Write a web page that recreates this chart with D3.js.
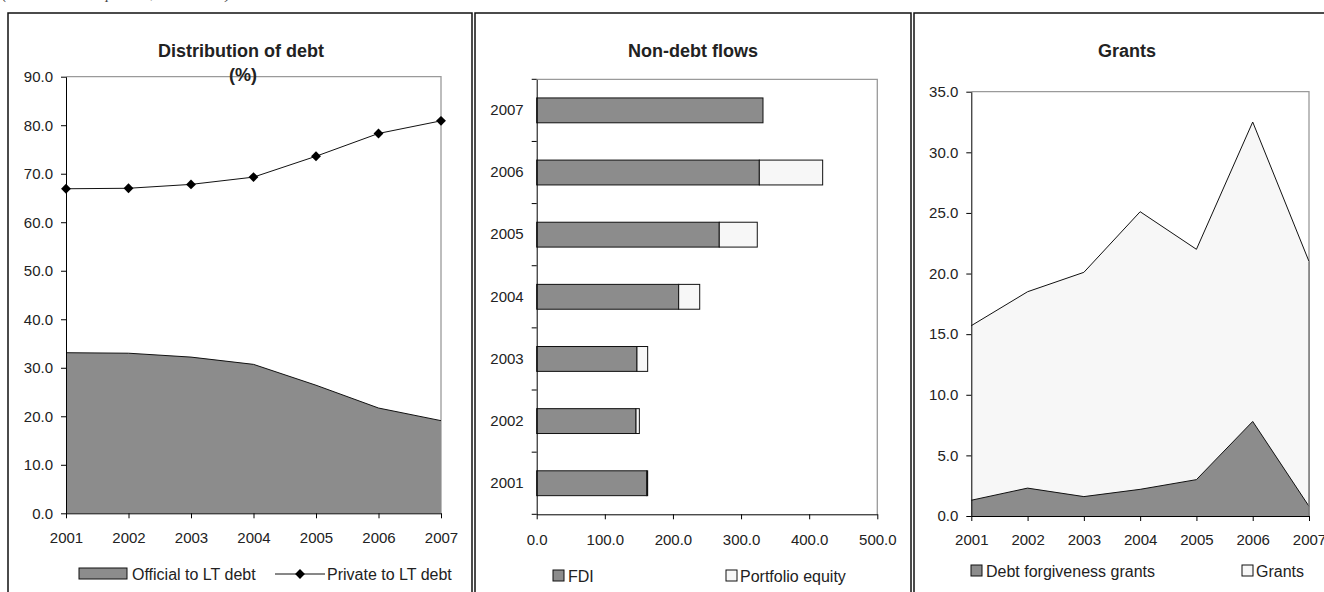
<!DOCTYPE html>
<html>
<head>
<meta charset="utf-8">
<script src="https://cdn.jsdelivr.net/npm/d3@7/dist/d3.min.js"></script>
<style>
  body { margin: 0; background: #fff; }
  svg { display: block; font-family: "Liberation Sans", Arial, sans-serif; }
</style>
</head>
<body>
<svg id="chart" width="1324" height="592"></svg>
<script>
// Years shared by all three panels
const years = ["2001", "2002", "2003", "2004", "2005", "2006", "2007"];

// Distribution of debt (%)
const officialShare = [33.1, 33.0, 32.2, 30.7, 26.4, 21.7, 19.1];
const privateShare  = [66.9, 67.0, 67.8, 69.3, 73.6, 78.3, 80.9];
const debtTicks = [0, 10, 20, 30, 40, 50, 60, 70, 80, 90];

// Non-debt flows
const fdi             = [161.5, 145.8, 147.2, 208.4, 268.0, 326.8, 332.2];
const portfolioEquity = [1.4, 4.9, 15.7, 30.9, 55.8, 93.0, 0.0];
const flowTicks = [0, 100, 200, 300, 400, 500];

// Grants
const debtForgivenessGrants = [1.3, 2.3, 1.6, 2.2, 3.0, 7.8, 0.8];
const grantsTotal           = [15.7, 18.5, 20.1, 25.1, 22.0, 32.5, 21.0];
const grantTicks = [0, 5, 10, 15, 20, 25, 30, 35];

const DARK = "#8c8c8c", LIGHT = "#f7f7f7", FRAME = "#9a9a9a", TEXT = "#222";
const FONT = "'Liberation Sans', Arial, sans-serif";
const fmt = d3.format(".1f");
const svg = d3.select("#chart");

// Axis text styling applied after d3 draws its defaults
function styleAxis(g) {
  g.attr("font-family", FONT).attr("font-size", 15);
  g.selectAll("path, line").attr("stroke", "#000");
  g.selectAll("text").attr("fill", TEXT).attr("font-size", 15).attr("font-family", FONT);
}

// Caption line running off the top edge
svg.append("text").attr("x", 2).attr("y", -1)
  .attr("font-family", "'Liberation Serif', 'Times New Roman', serif")
  .attr("font-style", "italic").attr("font-size", 15).attr("fill", "#444")
  .text("(US$ billion and percent, 2001–2007)");

// Panel boxes
[[8, 472], [475, 911], [914, 1340]].forEach(([x0, x1]) => {
  svg.append("rect").attr("x", x0).attr("y", 13).attr("width", x1 - x0).attr("height", 600)
    .attr("fill", "none").attr("stroke", "#111").attr("stroke-width", 1.5);
});

function title(x, y, t) {
  svg.append("text").attr("x", x).attr("y", y).attr("text-anchor", "middle")
    .attr("font-size", 18).attr("font-weight", "bold").attr("fill", TEXT).text(t);
}
function frame(x0, x1, y0, y1) {
  svg.append("path").attr("d", `M${x0},${y0}H${x1}V${y1}`)
    .attr("fill", "none").attr("stroke", FRAME).attr("stroke-width", 1.3);
}
function legendBox(x, y, w, h, fill, label, tx) {
  svg.append("rect").attr("x", x).attr("y", y).attr("width", w).attr("height", h)
    .attr("fill", fill).attr("stroke", "#111").attr("stroke-width", 1);
  svg.append("text").attr("x", tx).attr("y", y + h + 0.5).attr("font-size", 16)
    .attr("fill", TEXT).text(label);
}

// ---------- Panel 1: Distribution of debt ----------
{
  const x = d3.scalePoint().domain(years).range([66, 441]);
  const y = d3.scaleLinear().domain([0, 90]).range([513.3, 76.7]);
  frame(66, 441, 76.7, 513.3);

  const area = d3.area().x((d, i) => x(years[i])).y0(y(0)).y1(d => y(d));
  svg.append("path").datum(officialShare).attr("d", area).attr("fill", DARK);
  svg.append("path").datum(officialShare)
    .attr("d", d3.line().x((d, i) => x(years[i])).y(d => y(d)))
    .attr("fill", "none").attr("stroke", "#111").attr("stroke-width", 1);

  svg.append("path").datum(privateShare)
    .attr("d", d3.line().x((d, i) => x(years[i])).y(d => y(d)))
    .attr("fill", "none").attr("stroke", "#111").attr("stroke-width", 1);
  const diamond = d3.symbol().type(d3.symbolDiamond2).size(62);
  svg.selectAll(".pm").data(privateShare).join("path")
    .attr("transform", (d, i) => `translate(${x(years[i])},${y(d)})`)
    .attr("d", diamond).attr("fill", "#000");

  svg.append("g").attr("transform", "translate(66,0)")
    .call(d3.axisLeft(y).tickValues(debtTicks).tickFormat(fmt).tickSize(5).tickSizeOuter(0).tickPadding(8))
    .call(styleAxis);
  svg.append("g").attr("transform", "translate(0,513.3)")
    .call(d3.axisBottom(x).tickSize(5).tickSizeOuter(0).tickPadding(14))
    .call(styleAxis);

  title(241, 56.5, "Distribution of debt");
  title(243, 80.5, "(%)");

  legendBox(79, 568, 48, 11, DARK, "Official to LT debt", 132);
  svg.append("line").attr("x1", 275).attr("x2", 325).attr("y1", 574).attr("y2", 574)
    .attr("stroke", "#111").attr("stroke-width", 1);
  svg.append("path").attr("transform", "translate(300,574)").attr("d", diamond).attr("fill", "#000");
  svg.append("text").attr("x", 327).attr("y", 580).attr("font-size", 16).attr("fill", TEXT)
    .text("Private to LT debt");
}

// ---------- Panel 2: Non-debt flows ----------
{
  const order = years.slice().reverse();
  const x = d3.scaleLinear().domain([0, 500]).range([536.7, 877.3]);
  const y = d3.scaleBand().domain(order).range([79.3, 514.3]).paddingInner(0.6).paddingOuter(0.3);
  frame(536.7, 877.3, 79.3, 514.3);

  years.forEach((yr, i) => {
    svg.append("rect").attr("x", x(0)).attr("y", y(yr)).attr("width", x(fdi[i]) - x(0))
      .attr("height", y.bandwidth()).attr("fill", DARK).attr("stroke", "#111").attr("stroke-width", 1);
    if (portfolioEquity[i] > 0) {
      svg.append("rect").attr("x", x(fdi[i])).attr("y", y(yr))
        .attr("width", x(fdi[i] + portfolioEquity[i]) - x(fdi[i]))
        .attr("height", y.bandwidth()).attr("fill", LIGHT).attr("stroke", "#111").attr("stroke-width", 1);
    }
  });

  const yAxis = svg.append("g").attr("transform", "translate(536.7,0)")
    .call(d3.axisLeft(y).tickSize(0).tickSizeOuter(0).tickPadding(13))
    .call(styleAxis);
  // category boundary ticks
  const step = y.step();
  d3.range(order.length + 1).forEach(k => {
    yAxis.append("line").attr("x1", -5).attr("x2", 0)
      .attr("y1", 79.3 + k * step).attr("y2", 79.3 + k * step).attr("stroke", "#000");
  });
  svg.append("g").attr("transform", "translate(0,514.3)")
    .call(d3.axisBottom(x).tickValues(flowTicks).tickFormat(fmt).tickSize(5).tickSizeOuter(0).tickPadding(15))
    .call(styleAxis);

  title(693, 56.5, "Non-debt flows");
  legendBox(553, 570, 11, 11, DARK, "FDI", 568);
  legendBox(726, 570, 11, 11, LIGHT, "Portfolio equity", 740);
}

// ---------- Panel 3: Grants ----------
{
  const x = d3.scalePoint().domain(years).range([971.3, 1309]);
  const y = d3.scaleLinear().domain([0, 35]).range([516, 91.7]);
  frame(971.3, 1309, 91.7, 516);

  const area = d3.area().x((d, i) => x(years[i])).y0(y(0)).y1(d => y(d));
  const line = d3.line().x((d, i) => x(years[i])).y(d => y(d));
  svg.append("path").datum(grantsTotal).attr("d", area).attr("fill", LIGHT);
  svg.append("path").datum(grantsTotal).attr("d", line).attr("fill", "none").attr("stroke", "#111");
  svg.append("path").datum(debtForgivenessGrants).attr("d", area).attr("fill", DARK);
  svg.append("path").datum(debtForgivenessGrants).attr("d", line).attr("fill", "none").attr("stroke", "#111");
  svg.append("line").attr("x1", 1309).attr("x2", 1309).attr("y1", y(grantsTotal[6])).attr("y2", 516)
    .attr("stroke", "#777").attr("stroke-width", 1.5);

  svg.append("g").attr("transform", "translate(971.3,0)")
    .call(d3.axisLeft(y).tickValues(grantTicks).tickFormat(fmt).tickSize(5).tickSizeOuter(0).tickPadding(8))
    .call(styleAxis);
  svg.append("g").attr("transform", "translate(0,516)")
    .call(d3.axisBottom(x).tickSize(5).tickSizeOuter(0).tickPadding(13))
    .call(styleAxis);

  title(1127, 56.5, "Grants");
  legendBox(971, 565, 11, 11, DARK, "Debt forgiveness grants", 986);
  legendBox(1242, 565, 11, 11, LIGHT, "Grants", 1256);
}
</script>
</body>
</html>
